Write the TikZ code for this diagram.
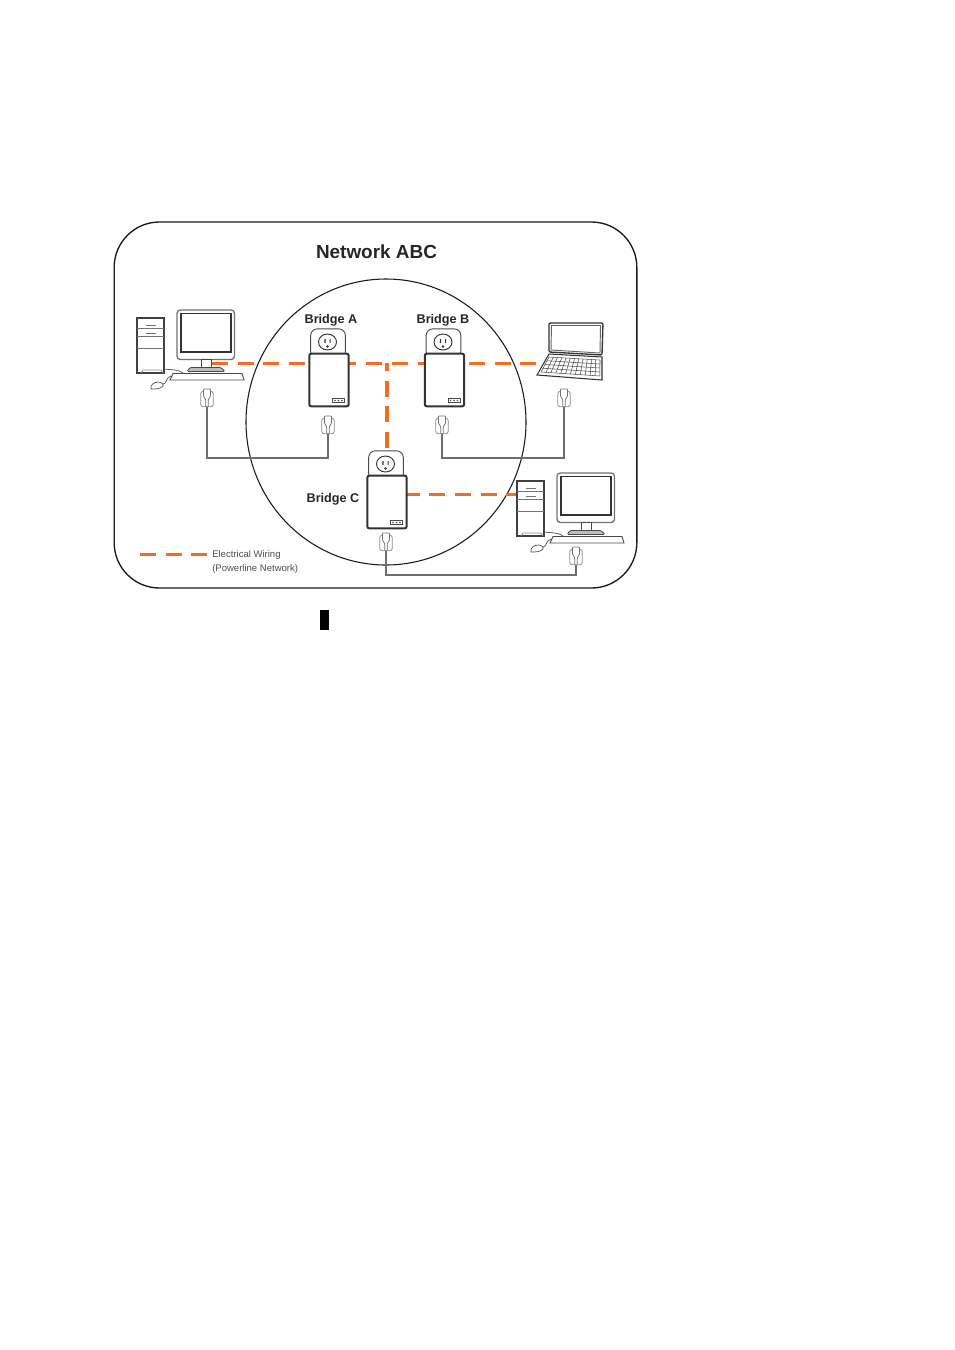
\documentclass[tikz,border=0pt]{standalone}
\usepackage{fontspec}
\setmainfont{Liberation Sans}
\usepackage{xcolor}
\usetikzlibrary{calc, shapes.geometric}
\definecolor{wiring}{HTML}{F26C22}
\definecolor{devline}{HTML}{4A4A4A}
\definecolor{cableline}{HTML}{6E6E6E}
\tikzset{
    netbox/.style={rectangle, draw=black!90, line width=1pt, rounded corners=34pt, minimum width=392pt, minimum height=274.5pt, inner sep=0pt},
    netring/.style={ellipse, draw=black!90, line width=0.8pt, minimum width=210pt, minimum height=214.5pt, inner sep=0pt},
    powerline/.style={draw=wiring, line width=2.5pt, dash pattern=on 12pt off 7.27pt},
    cable/.style={draw=cableline, line width=1pt},
    title/.style={font=\bfseries, text=black!85, inner sep=0pt},
    legendtext/.style={font=\fontsize{7.15}{8}\selectfont, text=black!70, inner sep=0pt, anchor=west},
    devbody/.style={rectangle, draw=black!80, fill=white, line width=1.5pt, rounded corners=1.5pt, minimum width=29.5pt, minimum height=39.5pt, inner sep=0pt},
    devsocket/.style={rectangle, draw=devline, fill=white, line width=0.7pt, rounded corners=5pt, minimum width=26pt, minimum height=22pt, inner sep=0pt},
    devface/.style={ellipse, draw=black!80, fill=white, line width=0.7pt, minimum width=13.5pt, minimum height=12pt, inner sep=0pt},
    devled/.style={rectangle, draw=devline, fill=white, line width=0.5pt, minimum width=9pt, minimum height=2.8pt, inner sep=0pt},
    plugbody/.style={rectangle, draw=black!45, fill=white, line width=0.6pt, rounded corners=1.8pt, minimum width=9.4pt, minimum height=11.5pt, inner sep=0pt},
    bridge/.pic={
        \node[devsocket] (-socket) at (-1,-36.5) {};
        \node[devbody] (-body) at (0,0) {};
        \node[devface] (-face) at (-1.5,-38) {};
        \fill[black!80] (-4.7,-41) rectangle (-3.5,-37) (0.5,-41) rectangle (1.7,-37) (-1.5,-33.5) circle (1.3);
        \node[devled] (-led) at (9.5,20.5) {};
        \fill[devline] (6,20.5) circle (0.8) (9.5,20.5) circle (0.8) (13,20.5) circle (0.8);
    },
    plug/.pic={
        \node[plugbody] (-body) at (0,0) {};
        \draw[draw=black!55, fill=white, line width=0.6pt, rounded corners=0.5pt] (-3.5,-10) -- (3.5,-10) -- (3.5,-3) -- (1.2,1) -- (1.2,8) -- (-1.2,8) -- (-1.2,1) -- (-3.5,-3) -- cycle;
    },
    computer/.pic={
        \draw[draw=black!75, fill=white, line width=0.8pt] (0,0) rectangle (27,55);
        \draw[black!55, line width=0.5pt] (0,10) -- (27,10) (0,18) -- (27,18) (0,30) -- (27,30) (9,7) -- (19,7) (9,15) -- (19,15);
        \draw[black!45, line width=0.6pt] (4,55) -- (6,52) -- (24,52) -- (26,55);
        \draw[devline, line width=0.5pt] (27,51) -- (38,52) .. controls (43,53) and (45,54) .. (46,55);
        \draw[devline, line width=0.5pt] (26,66) .. controls (30,66) and (28,60) .. (34,58);
        \draw[devline, fill=white, line width=0.5pt] (14,71) .. controls (13,67) and (17,64) .. (21,64) .. controls (24,64) and (27,66) .. (26,68) .. controls (24,71) and (18,71) .. (14,71) -- cycle;
        \draw[draw=black!55, fill=white, line width=1pt, rounded corners=2.5pt] (40,-8) rectangle (97.5,41.5);
        \draw[draw=black!80, fill=white, line width=0.9pt] (44,-4.5) rectangle (94,34);
        \draw[draw=devline, fill=white, line width=0.7pt] (64,41.5) rectangle (74,49.5);
        \draw[draw=devline, fill=black!25, line width=0.6pt, rounded corners=1pt] (50,53.5) -- (53,49.5) -- (84,49.5) -- (88,53.5) -- cycle;
        \draw[draw=devline, fill=white, line width=0.7pt] (33,62) -- (36,55.5) -- (105,55.5) -- (107,62) -- cycle;
    }
}
\begin{document}
\begin{tikzpicture}[x=0.75pt, y=-0.75pt]
    \useasboundingbox (0,0) rectangle (954,1350);

    \node[netbox] (net) at (375.5,405) {};
    \node[netring] (ring) at (386,422) {};
    \node[title, font=\bfseries\fontsize{14.2}{16}\selectfont] (nettitle) at (376.5,251.5) {Network ABC};

    \coordinate (busl) at (212,363.5);
    \coordinate (busr) at (536,363.5);
    \coordinate (busj) at (387,363);
    \coordinate (busm) at (387,448);
    \coordinate (busc) at (403.6,494.5);
    \coordinate (buse) at (517,494.5);
    \coordinate (legl) at (140,554.5);
    \coordinate (legr) at (207,554.5);

    \draw[powerline] (busl) -- (busr);
    \draw[powerline] (busm) -- (busj);
    \draw[powerline] (busc) -- (buse);
    \draw[powerline] (legl) -- (legr);

    \pic (pca) at (137,318) {computer};
    \pic (pcc) at (517,481) {computer};

    \pic (bra) at (329,380) {bridge};
    \pic (brb) at (444.5,380) {bridge};
    \pic (brc) at (387,502) {bridge};

    \draw[draw=black!80, fill=white, line width=1pt, rounded corners=1pt] (549,323) -- (603,323) -- (602,355) -- (549,352) -- cycle;
    \draw[draw=black!60, line width=0.7pt] (551.5,325.5) -- (600.5,325.5) -- (600,353) -- (551,350) -- cycle;
    \draw[draw=black!80, fill=white, line width=0.8pt] (549,354) -- (602,357) -- (602,380) -- (537,375) -- cycle;
    \coordinate (kbtl) at (549,357);
    \coordinate (kbtr) at (600,360);
    \coordinate (kbbl) at (541,372);
    \coordinate (kbbr) at (600,376);
    \foreach \t in {0,0.25,...,1.01} {
        \draw[devline, line width=0.4pt] ($(kbtl)!\t!(kbbl)$) -- ($(kbtr)!\t!(kbbr)$);
    }
    \foreach \t in {0,0.0833,...,1.01} {
        \draw[devline, line width=0.4pt] ($(kbtl)!\t!(kbtr)$) -- ($(kbbl)!\t!(kbbr)$);
    }

    \pic (plugpca) at (207,399) {plug};
    \pic (plugbra) at (328,426) {plug};
    \pic (plugbrb) at (442,426) {plug};
    \pic (pluglap) at (564,399) {plug};
    \pic (plugbrc) at (386,543) {plug};
    \pic (plugpcc) at (576,557) {plug};

    \draw[cable] (plugpca-body.south) -- ++(0,51) -| (plugbra-body.south);
    \draw[cable] (plugbrb-body.south) -- ++(0,24) -| (pluglap-body.south);
    \draw[cable] (plugbrc-body.south) -- ++(0,24) -| (plugpcc-body.south);

    \node[title, font=\bfseries\fontsize{9.5}{11}\selectfont] (laba) at (331,320) {Bridge A};
    \node[title, font=\bfseries\fontsize{9.5}{11}\selectfont] (labb) at (443,320) {Bridge B};
    \node[title, font=\bfseries\fontsize{9.5}{11}\selectfont] (labc) at (333,499.5) {Bridge C};

    \node[legendtext] (leg1) at (212,555.5) {Electrical Wiring};
    \node[legendtext] (leg2) at (212,569.5) {(Powerline Network)};

    \node[rectangle, fill=black, minimum width=6.4pt, minimum height=15pt, inner sep=0pt] (cursor) at (324.3,620) {};
\end{tikzpicture}
\end{document}
